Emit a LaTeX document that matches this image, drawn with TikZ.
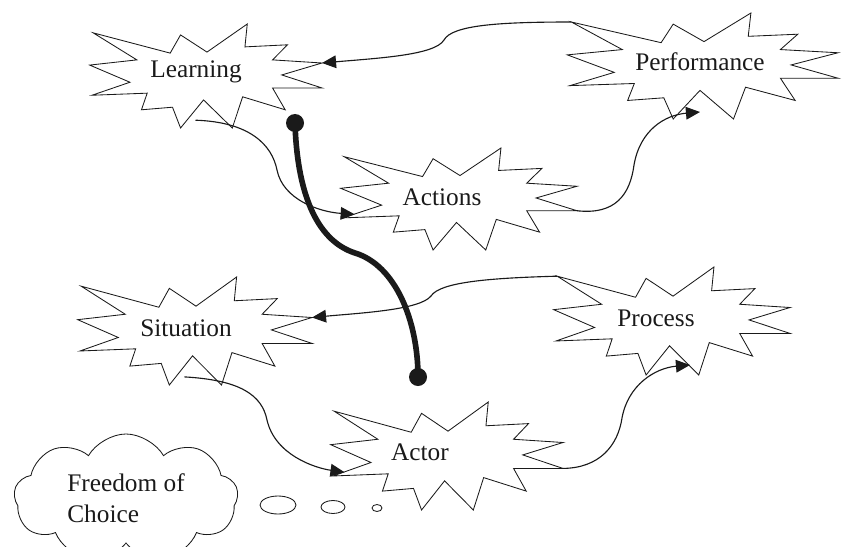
\documentclass[tikz,border=0pt]{standalone}
\usepackage{fontspec}
\setmainfont{Liberation Serif}
\usetikzlibrary{arrows.meta,calc,shapes.symbols}
\definecolor{ink}{HTML}{1A1A1A}

\tikzset{
  burst/.pic={
    \draw[ink, line width=0.6pt, line join=miter]
      (-0.99,-0.83) coordinate (-tl) -- (-0.32,-0.44) -- (-0.23,-0.79) -- (0,-0.46)
      -- (0.35,-1) -- (0.33,-0.56) -- (0.70,-0.60) -- (0.57,-0.31)
      -- (1,-0.25) coordinate (-r) -- (0.65,-0.02) -- (1,0.23) coordinate (-br) -- (0.57,0.23)
      -- (0.68,0.65) -- (0.31,0.40) -- (0.22,1) -- (-0.03,0.46)
      -- (-0.23,1) -- (-0.30,0.60) -- (-0.57,0.65) -- (-0.52,0.33)
      -- (-1,0.37) -- (-0.67,0.12) -- (-1.02,-0.21) -- (-0.61,-0.31) -- cycle;
    \coordinate (-s) at (-0.1,0.85);
    \coordinate (-in) at (-0.9,0.3);
  },
  label text/.style={font=\fontsize{18}{22}\selectfont, text=ink, inner sep=0pt},
  link/.style={ink, line width=0.8pt, -{Triangle[length=10pt,width=9pt]}},
  grip/.style={circle, fill=ink, minimum size=0.45cm, inner sep=0pt},
}

\begin{document}
\begin{tikzpicture}[x=0.025cm, y=-0.025cm]
  \useasboundingbox (0,0) rectangle (846,546);
  \clip (0,0) rectangle (846,546);

  % the six bursts
  \pic[xscale=115, yscale=52] (learnb) at (207,76) {burst};
  \pic[xscale=134, yscale=53] (perfb) at (704,66) {burst};
  \pic[xscale=117, yscale=51] (actb) at (460,199) {burst};
  \pic[xscale=116, yscale=54] (sitb) at (196,331) {burst};
  \pic[xscale=117, yscale=54] (procb) at (673,321) {burst};
  \pic[xscale=115, yscale=54] (actorb) at (448,456) {burst};

  \node[label text] (learn) at (196,72) {Learning};
  \node[label text] (perf) at (700,62) {Performance};
  \node[label text] (act) at (442,197) {Actions};
  \node[label text] (sit) at (186,328) {Situation};
  \node[label text] (proc) at (656,318) {Process};
  \node[label text] (actor) at (420,452) {Actor};

  \coordinate (perfin) at (700,112);
  \coordinate (procin) at (690,365);

  % connectors
  \draw[link] (perfb-tl) .. controls (500,22) and (452,25) .. (444,40)
    .. controls (435,55) and (380,58) .. (learnb-r);
  \draw[link] (learnb-s) .. controls (250,122) and (272,145) .. (277,170)
    .. controls (283,200) and (320,212) .. (actb-in);
  \draw[link] (actb-br) .. controls (615,215) and (630,195) .. (634,165)
    .. controls (640,130) and (665,115) .. (perfin);
  \draw[link] (procb-tl) .. controls (490,278) and (440,282) .. (431,296)
    .. controls (420,310) and (360,313) .. (sitb-r);
  \draw[link] (sitb-s) .. controls (240,380) and (262,395) .. (267,420)
    .. controls (275,455) and (315,468) .. (actorb-in);
  \draw[link] (actorb-br) .. controls (600,468) and (618,445) .. (622,418)
    .. controls (628,385) and (655,368) .. (procin);

  % thick link between the levels
  \node[grip] (top) at (295,123) {};
  \node[grip] (bot) at (418,377) {};
  \draw[ink, line width=4pt] (top.center) .. controls (297,190) and (315,240) .. (355,253)
    .. controls (395,265) and (418,320) .. (bot.center);

  % thought cloud
  \node[cloud, draw=ink, line width=0.6pt, cloud puffs=9, cloud puff arc=120, aspect=1.7,
    minimum width=5.6cm, minimum height=3.2cm, label text, align=left] (free) at (126,498)
    {Freedom of\\Choice};
  \draw[ink, line width=0.6pt] (278,505) ellipse [x radius=18, y radius=9];
  \draw[ink, line width=0.6pt] (333,507) ellipse [x radius=12, y radius=6.5];
  \draw[ink, line width=0.6pt] (377,508) ellipse [x radius=5, y radius=3.5];
\end{tikzpicture}
\end{document}
